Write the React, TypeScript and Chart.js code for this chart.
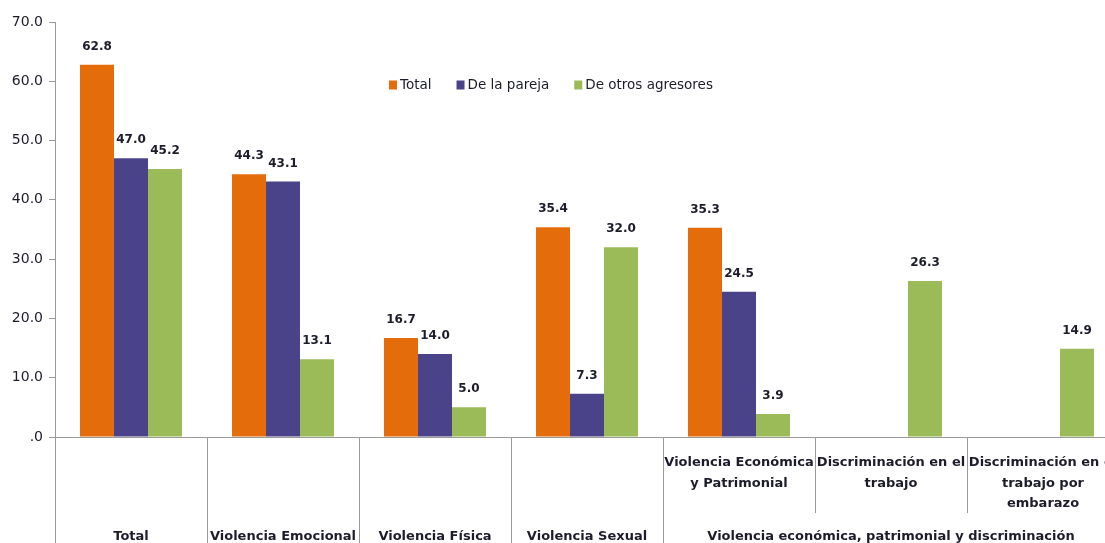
import React, { useEffect, useRef } from 'react';
import { Chart, registerables } from 'chart.js';

Chart.register(...registerables);

const categories = [
  'Total',
  'Violencia Emocional',
  'Violencia Física',
  'Violencia Sexual',
  'Violencia Económica y Patrimonial',
  'Discriminación en el trabajo',
  'Discriminación en el trabajo por embarazo',
];
const subLabels: (string[] | null)[] = [
  null,
  null,
  null,
  null,
  ['Violencia Económica', 'y Patrimonial'],
  ['Discriminación en el', 'trabajo'],
  ['Discriminación en el', 'trabajo por', 'embarazo'],
];
const groupLabels = [
  { label: 'Total', from: 0, to: 0 },
  { label: 'Violencia Emocional', from: 1, to: 1 },
  { label: 'Violencia Física', from: 2, to: 2 },
  { label: 'Violencia Sexual', from: 3, to: 3 },
  { label: 'Violencia económica, patrimonial y discriminación', from: 4, to: 6 },
];
const seriesNames = ['Total', 'De la pareja', 'De otros agresores'];
const totalValues = [62.8, 44.3, 16.7, 35.4, 35.3, null, null];
const parejaValues = [47.0, 43.1, 14.0, 7.3, 24.5, null, null];
const otrosValues = [45.2, 13.1, 5.0, 32.0, 3.9, 26.3, 14.9];
const seriesColors = ['#E46C0A', '#4A438A', '#9BBB59'];
const yMin = 0;
const yMax = 70;
const yStep = 10;

const FONT = '"DejaVu Sans", sans-serif';
const TEXT = '#1c1c2a';
const LINE = '#9a9a9a';

const overlayPlugin = {
  id: 'overlay',
  afterDraw(chart: any) {
    const ctx = chart.ctx;
    const area = chart.chartArea;
    const x = chart.scales.x;
    const y = chart.scales.y;
    const y0 = y.getPixelForValue(0);
    const H = chart.height;
    const n = categories.length;
    const cw = (area.right - area.left) / n;
    ctx.save();
    // zero line
    ctx.strokeStyle = LINE;
    ctx.lineWidth = 1;
    ctx.beginPath();
    ctx.moveTo(area.left, y0 + 0.5);
    ctx.lineTo(area.right, y0 + 0.5);
    ctx.stroke();
    // axis extension + separators
    for (let i = 0; i <= n; i++) {
      const bx = Math.round(x.getPixelForValue(i) - cw / 2) + 0.5;
      const inner = i === 5 || i === 6;
      ctx.beginPath();
      ctx.moveTo(bx, y0);
      ctx.lineTo(bx, inner ? y0 + 76 : H);
      ctx.stroke();
    }
    // sub labels
    ctx.fillStyle = TEXT;
    ctx.textAlign = 'center';
    ctx.textBaseline = 'middle';
    ctx.font = `bold 13px ${FONT}`;
    subLabels.forEach((lines, i) => {
      if (!lines) return;
      const cx = x.getPixelForValue(i);
      lines.forEach((t, k) => ctx.fillText(t, cx, y0 + 26 + k * 20.5));
    });
    // group labels
    groupLabels.forEach((g) => {
      const cx = (x.getPixelForValue(g.from) + x.getPixelForValue(g.to)) / 2;
      ctx.fillText(g.label, cx, y0 + 100);
    });
    // data labels
    ctx.font = `bold 12px ${FONT}`;
    chart.data.datasets.forEach((ds: any, di: number) => {
      const meta = chart.getDatasetMeta(di);
      meta.data.forEach((el: any, i: number) => {
        const v = ds.data[i];
        if (v === null || v === undefined) return;
        ctx.fillText(v.toFixed(1), el.x, el.y - 18);
      });
    });
    // legend
    ctx.font = `13.5px ${FONT}`;
    ctx.textAlign = 'left';
    let lx = area.left + 334;
    const ly = 85;
    seriesNames.forEach((name, i) => {
      ctx.fillStyle = seriesColors[i];
      ctx.fillRect(lx, ly - 4.5, 8, 9);
      ctx.fillStyle = TEXT;
      ctx.fillText(name, lx + 11, ly);
      lx += 11 + ctx.measureText(name).width + 25;
    });
    ctx.restore();
  },
};

export default function App() {
  const ref = useRef<HTMLCanvasElement | null>(null);
  useEffect(() => {
    if (!ref.current) return;
    const chart = new Chart(ref.current, {
      type: 'bar',
      data: {
        labels: categories,
        datasets: [
          { label: seriesNames[0], data: totalValues, backgroundColor: seriesColors[0] },
          { label: seriesNames[1], data: parejaValues, backgroundColor: seriesColors[1] },
          { label: seriesNames[2], data: otrosValues, backgroundColor: seriesColors[2] },
        ].map((d) => ({ ...d, borderWidth: 0, categoryPercentage: 102 / 152, barPercentage: 1 })),
      },
      options: {
        responsive: false,
        animation: false,
        devicePixelRatio: 1,
        layout: { padding: { top: 22, right: 11, bottom: 106, left: 0 } },
        plugins: { legend: { display: false }, tooltip: { enabled: false } },
        scales: {
          x: { display: false },
          y: {
            min: yMin,
            max: yMax,
            afterFit: (s: any) => {
              s.width = 55;
            },
            ticks: {
              stepSize: yStep,
              padding: 6,
              color: TEXT,
              font: { family: FONT, size: 14 },
              callback: (v: any) => (Number(v) === 0 ? '.0' : Number(v).toFixed(1)),
            },
            grid: { drawOnChartArea: false, tickLength: 6, color: LINE },
            border: { color: LINE },
          },
        },
      },
      plugins: [overlayPlugin],
    } as any);
    return () => chart.destroy();
  }, []);
  return (
    <div
      style={{
        position: 'fixed',
        left: 0,
        top: 0,
        width: 1105,
        height: 543,
        overflow: 'hidden',
        background: '#fff',
      }}
    >
      <canvas ref={ref} width={1130} height={543} style={{ display: 'block' }} />
    </div>
  );
}
